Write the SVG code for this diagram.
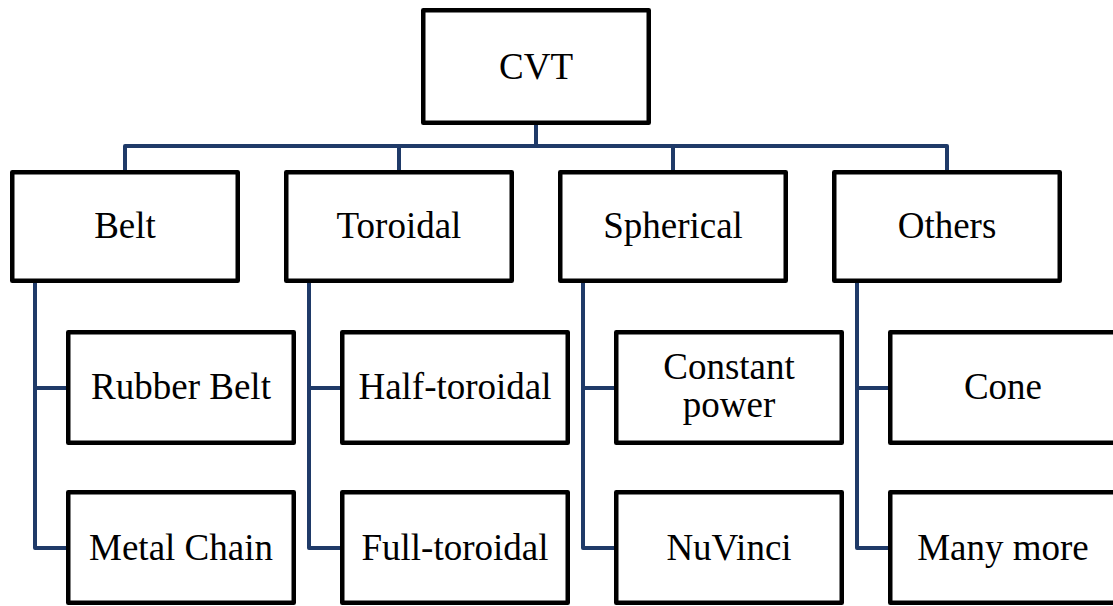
<svg xmlns="http://www.w3.org/2000/svg" width="1113" height="606" viewBox="0 0 1113 606">
<style>
.box{fill:#fff;stroke:#000;stroke-width:4.5;stroke-linejoin:round}
.lbl{font-family:"Liberation Serif","Times New Roman",serif;font-size:37px;fill:#000;text-anchor:middle}
.con{fill:none;stroke:#1F3A68;stroke-width:4;stroke-linejoin:round}
</style>
<rect width="1113" height="606" fill="#fff"/>
<g id="connectors">
<path class="con" d="M536 125V146M125 170V146H947V170M399 146V170M673 146V170"/>
<path class="con" d="M35 283V548H66M35 388H66"/>
<path class="con" d="M309 283V548H340M309 388H340"/>
<path class="con" d="M583 283V548H614M583 388H614"/>
<path class="con" d="M857 283V548H888M857 388H888"/>
</g>
<g id="cvt"><rect class="box" x="423.25" y="10.25" width="225.5" height="112.5"/><text class="lbl" x="536" y="78.5">CVT</text></g>
<g id="belt"><rect class="box" x="12.25" y="172.25" width="225.5" height="108.5"/><text class="lbl" x="125" y="238">Belt</text></g>
<g id="toroidal"><rect class="box" x="286.25" y="172.25" width="225.5" height="108.5"/><text class="lbl" x="399" y="238">Toroidal</text></g>
<g id="spherical"><rect class="box" x="560.25" y="172.25" width="225.5" height="108.5"/><text class="lbl" x="673" y="238">Spherical</text></g>
<g id="others"><rect class="box" x="834.25" y="172.25" width="225.5" height="108.5"/><text class="lbl" x="947" y="238">Others</text></g>
<g id="rubber-belt"><rect class="box" x="68.25" y="332.25" width="225.5" height="110.5"/><text class="lbl" x="181" y="398.5">Rubber Belt</text></g>
<g id="metal-chain"><rect class="box" x="68.25" y="492.25" width="225.5" height="110.5"/><text class="lbl" x="181" y="559.5">Metal Chain</text></g>
<g id="half-toroidal"><rect class="box" x="342.25" y="332.25" width="225.5" height="110.5"/><text class="lbl" x="455" y="398.5">Half-toroidal</text></g>
<g id="full-toroidal"><rect class="box" x="342.25" y="492.25" width="225.5" height="110.5"/><text class="lbl" x="455" y="559.5">Full-toroidal</text></g>
<g id="constant-power"><rect class="box" x="616.25" y="332.25" width="225.5" height="110.5"/><text class="lbl" x="729" y="379">Constant</text><text class="lbl" x="729" y="417">power</text></g>
<g id="nuvinci"><rect class="box" x="616.25" y="492.25" width="225.5" height="110.5"/><text class="lbl" x="729" y="559.5">NuVinci</text></g>
<g id="cone"><rect class="box" x="890.25" y="332.25" width="225.5" height="110.5"/><text class="lbl" x="1003" y="398.5">Cone</text></g>
<g id="many-more"><rect class="box" x="890.25" y="492.25" width="225.5" height="110.5"/><text class="lbl" x="1003" y="559.5">Many more</text></g>
</svg>
